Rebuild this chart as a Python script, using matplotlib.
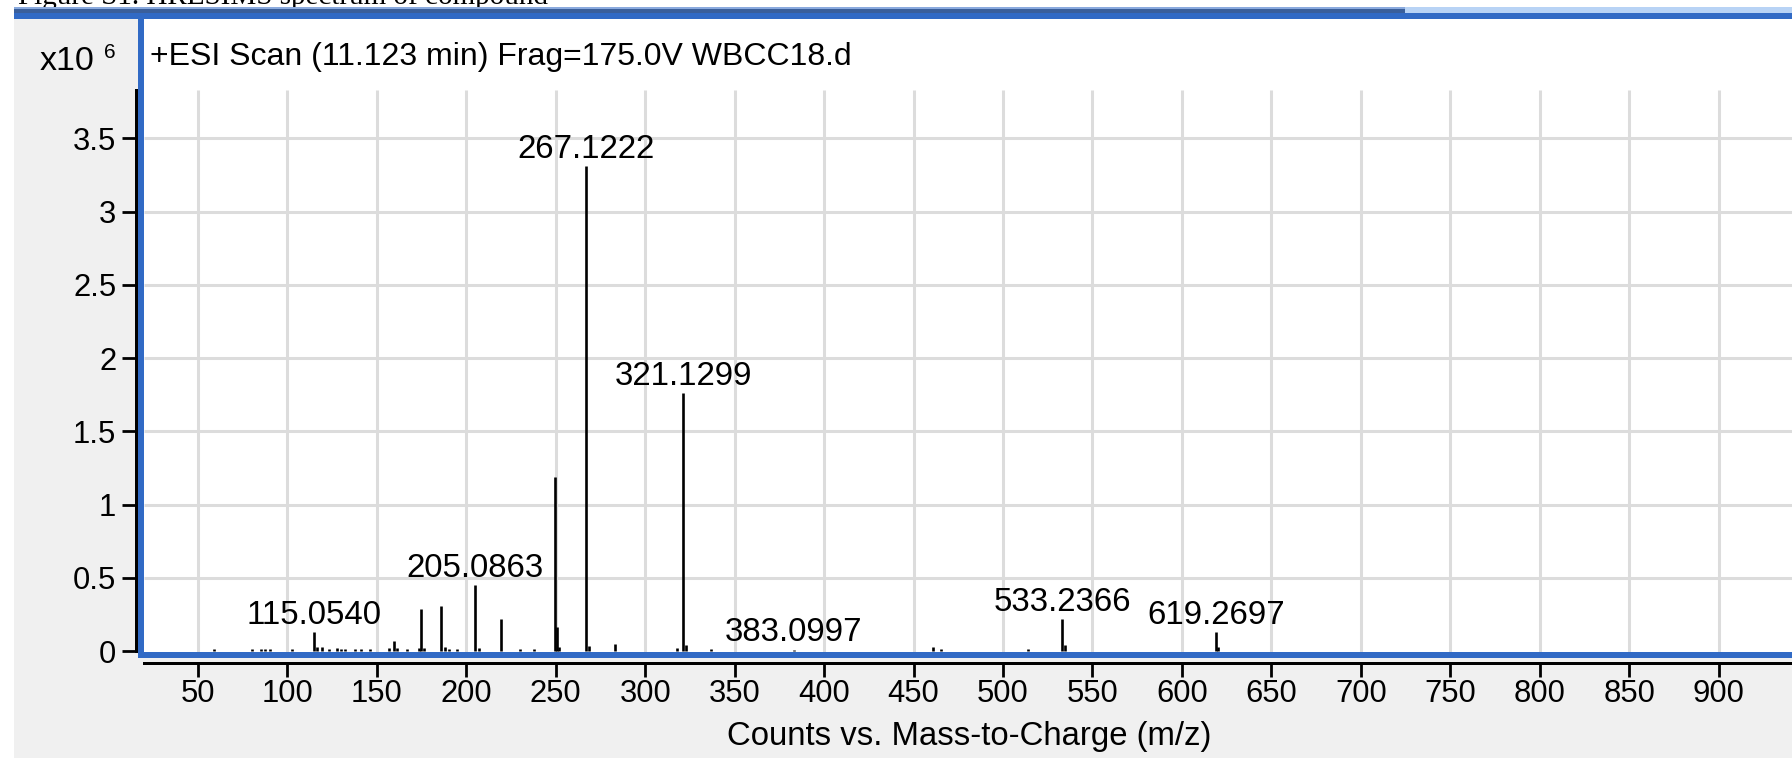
import matplotlib
matplotlib.use("Agg")
import matplotlib.pyplot as plt
from matplotlib.patches import Rectangle

# size of the screenshot in pixels
W, H = 1792, 758

# labelled peaks (m/z, counts x10^6)
label_mz = [115.0540, 205.0863, 267.1222, 321.1299, 383.0997, 533.2366, 619.2697]
label_int = [0.13, 0.45, 3.31, 1.76, 0.01, 0.22, 0.13]

# other peaks
minor_mz = [59.0, 80.3, 85.0, 87.5, 90.5, 102.3, 116.5, 119.3, 123.1, 127.7,
            130.0, 132.4, 138.0, 141.0, 146.4, 157.0, 159.4, 161.5, 166.9, 173.5,
            174.4, 176.2, 186.1, 188.3, 190.5, 194.8, 207.0, 219.1, 230.2, 237.7,
            249.4, 250.7, 252.0, 268.4, 283.1, 317.8, 322.6, 336.5, 461.0, 465.3,
            513.8, 534.6, 620.4]
minor_int = [0.015, 0.012, 0.012, 0.015, 0.012, 0.012, 0.03, 0.025, 0.015, 0.02,
             0.015, 0.015, 0.015, 0.012, 0.015, 0.02, 0.07, 0.02, 0.012, 0.02,
             0.29, 0.02, 0.31, 0.025, 0.015, 0.012, 0.02, 0.22, 0.012, 0.012,
             1.19, 0.165, 0.03, 0.035, 0.048, 0.02, 0.04, 0.012, 0.03, 0.015,
             0.015, 0.04, 0.03]

x_ticks = list(range(50, 901, 50))
y_ticks = [0, 0.5, 1, 1.5, 2, 2.5, 3, 3.5]
y_tick_labels = ['0', '0.5', '1', '1.5', '2', '2.5', '3', '3.5']

title = '+ESI Scan (11.123 min) Frag=175.0V WBCC18.d'
x_label = 'Counts vs. Mass-to-Charge (m/z)'
caption = 'Figure S1. HRESIMS spectrum of compound'

plt.rcParams['font.family'] = ['Liberation Sans', 'DejaVu Sans']


def fx(x):
    return x / W


def fy(y):
    # pixel rows are counted from the top
    return 1 - y / H


def box(x0, y0, x1, y1, color, z=5):
    fig.add_artist(Rectangle((fx(x0), fy(y1)), fx(x1) - fx(x0), fy(y0) - fy(y1),
                             transform=fig.transFigure, facecolor=color,
                             edgecolor='none', zorder=z))


fig = plt.figure(figsize=(W / 100, H / 100), dpi=100, facecolor='white')

# grey panel and the window borders
box(14, 13, W, H, '#f0f0f0', z=-5)
box(14, 7, 1405, 9, '#8aaade')
box(14, 9, 1405, 13, '#3a5f9b')
box(1405, 7, W, 13, '#b8d3f5')
box(14, 13, W, 19, '#316ac5')
box(138, 13, 144, 658, '#316ac5')
box(138, 652, W, 658, '#316ac5')

# caption of the document, mostly cut off at the top
fig.text(fx(18), fy(4), caption, fontsize=21, family='Liberation Serif',
         va='baseline', ha='left', zorder=1)

ax = fig.add_axes([fx(144), fy(652), fx(1800) - fx(144), fy(19) - fy(652)])
ax.set_facecolor('white')
ax.set_xlim(19.82, 945.5)
ax.set_ylim(-0.0068, 4.314)
y_top = 3.83

grid_c = '#dcdcdc'
ax.vlines(x_ticks, -0.0068, y_top, colors=grid_c, lw=2.2, zorder=0)
ax.hlines(y_ticks[1:], 19.82, 945.5, colors=grid_c, lw=2.2, zorder=0)

ax.vlines(minor_mz, 0, minor_int, colors='black', lw=1.9, zorder=2)
ax.vlines(label_mz, 0, label_int, colors='black', lw=1.9, zorder=2)
for mz, inten in zip(label_mz, label_int):
    ax.annotate(f'{mz:.4f}', (mz, inten), xytext=(0, 5.8), textcoords='offset points',
                ha='center', va='baseline', fontsize=23.8, zorder=3)

for side in ['top', 'right']:
    ax.spines[side].set_visible(False)
ax.spines['left'].set_position(('outward', 5.76))
ax.spines['left'].set_bounds(0, y_top)
ax.spines['bottom'].set_position(('outward', 7.92))
for side in ['left', 'bottom']:
    ax.spines[side].set_linewidth(2.16)
    ax.spines[side].set_color('black')

ax.set_xticks(x_ticks)
ax.set_xticklabels([str(t) for t in x_ticks])
ax.set_yticks(y_ticks)
ax.set_yticklabels(y_tick_labels)
ax.tick_params(axis='both', length=10, width=2.0, color='black', labelsize=22.3)
ax.tick_params(axis='y', pad=4.3)
ax.tick_params(axis='x', pad=1.4)

fig.text(fx(150), fy(65), title, fontsize=23, va='baseline', ha='left')
fig.text(fx(40), fy(70), 'x10', fontsize=24.5, va='baseline', ha='left')
fig.text(fx(104), fy(58), '6', fontsize=15, va='baseline', ha='left')
fig.text(fx(969), fy(745), x_label, fontsize=23.7, va='baseline', ha='center')

fig.savefig('out.png', dpi=100, facecolor=fig.get_facecolor())
